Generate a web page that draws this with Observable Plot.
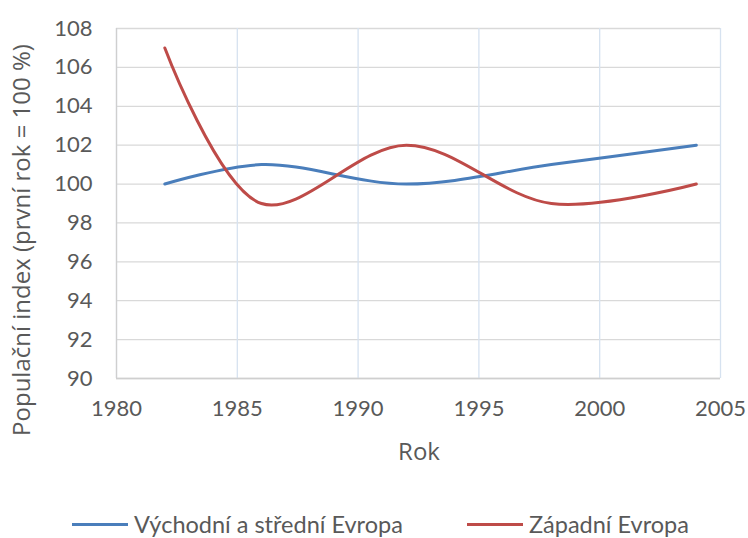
<!DOCTYPE html>
<html><head><meta charset="utf-8">
<script src="https://cdn.jsdelivr.net/npm/d3@7"></script>
<script src="https://cdn.jsdelivr.net/npm/@observablehq/plot@0.6"></script>
<style>
body{margin:0;background:#fff;width:748px;height:538px;position:relative;overflow:hidden;}
#legend{position:absolute;left:0;top:508px;width:748px;height:32px;font-family:Lato,sans-serif;font-size:23.5px;color:#595959;}
.item{position:absolute;top:0;display:flex;align-items:center;height:32px;}
.sw{width:56px;height:3px;margin-right:6px;}
</style></head><body><div id="chart"></div><div id="legend"></div><script>
const years = [1982, 1986, 1992, 1998, 2004];
const eastCentral = [100, 101, 100, 101, 102];
const western = [107, 99, 102, 99, 100];
const seriesNames = ["Východní a střední Evropa", "Západní Evropa"];
const seriesColors = ["#4a7ebb", "#be4b48"];
const xTicks = [1980, 1985, 1990, 1995, 2000, 2005];
const yTicks = [90, 92, 94, 96, 98, 100, 102, 104, 106, 108];
const xTitle = "Rok";
const yTitle = "Populační index (první rok = 100 %)";

const data = [];
years.forEach((y, i) => data.push({year: y, value: eastCentral[i], series: seriesNames[0]}));
years.forEach((y, i) => data.push({year: y, value: western[i], series: seriesNames[1]}));

const font = 'Lato,sans-serif';
const titleFont = '"Open Sans",sans-serif';
const chart = Plot.plot({
  width: 748, height: 490,
  marginLeft: 116, marginRight: 28, marginTop: 28, marginBottom: 112,
  style: {fontSize: "22px", fontFamily: font, color: "#595959", background: "#fff"},
  x: {domain: [1980, 2005], ticks: xTicks, tickFormat: "d", label: null},
  y: {domain: [90, 108], ticks: yTicks, label: null},
  color: {domain: seriesNames, range: seriesColors},
  marks: [
    Plot.gridY(yTicks, {stroke: "#d9d9d9", strokeOpacity: 1, strokeWidth: 1.3}),
    Plot.gridX(xTicks, {stroke: "#d6e2f0", strokeOpacity: 1, strokeWidth: 1.3}),
    Plot.ruleX([1980], {stroke: "#cfcfcf", strokeWidth: 1.3}),
    Plot.ruleY([90], {stroke: "#cfcfcf", strokeWidth: 1.3}),
    Plot.axisX(xTicks, {tickSize: 0, tickPadding: 22, tickFormat: "d", fill: "#595959"}),
    Plot.axisY(yTicks, {tickSize: 0, tickPadding: 24, fill: "#595959"}),
    Plot.line(data, {x: "year", y: "value", z: "series", stroke: "series", strokeWidth: 3, curve: "catmull-rom"})
  ]
});
document.getElementById("chart").appendChild(chart);

const svg = d3.select(chart);
svg.append("text").attr("x", 419).attr("y", 454).attr("text-anchor", "middle").attr("dominant-baseline", "middle")
  .attr("font-family", titleFont).attr("font-size", 24).attr("fill", "#595959").text(xTitle);
svg.append("text").attr("transform", "translate(24,240) rotate(-90)").attr("text-anchor", "middle").attr("dominant-baseline", "middle")
  .attr("font-family", titleFont).attr("font-size", 24).attr("fill", "#595959").text(yTitle);

const legend = d3.select("#legend");
const pos = [72, 467];
seriesNames.forEach((n, i) => {
  const it = legend.append("div").attr("class", "item").style("left", pos[i] + "px");
  it.append("div").attr("class", "sw").style("background", seriesColors[i]);
  it.append("span").text(n);
});
</script></body></html>
